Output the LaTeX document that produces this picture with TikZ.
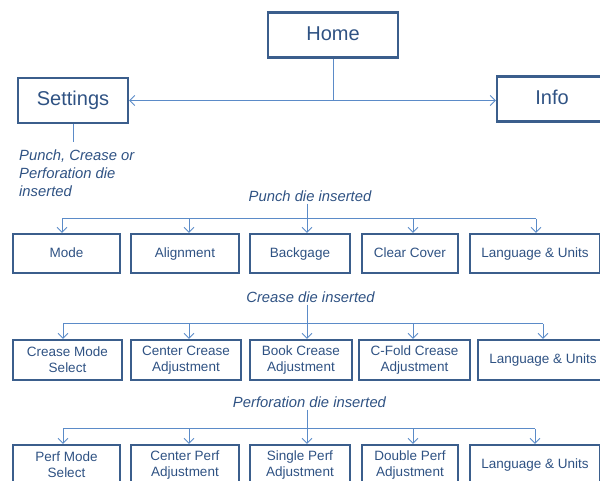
\documentclass[tikz,border=0pt]{standalone}
\usepackage{fontspec}
\setmainfont{Liberation Sans}
\usetikzlibrary{calc,arrows.meta}

\definecolor{boxblue}{HTML}{3B5E8C}
\definecolor{textblue}{HTML}{2F5283}
\definecolor{linkblue}{HTML}{5B8BC8}

\tikzset{>={Straight Barb[length=5pt,width=10pt]}}

\begin{document}
\begin{tikzpicture}[x=1pt, y=-1pt,
		topbox/.style={draw=boxblue, line width=2.4pt, text=textblue, font=\fontsize{20}{24}\selectfont, minimum height=45pt, inner sep=0pt, text height=14.5pt, text depth=4pt},
		menubox/.style={draw=boxblue, line width=2.2pt, text=textblue, font=\fontsize{13.5}{16}\selectfont, align=center, minimum height=39pt, inner sep=0pt},
		oneline/.style={menubox, text height=10pt, text depth=3pt},
		note/.style={text=textblue, font=\fontsize{14.8}{18}\selectfont\itshape, inner sep=2pt},
		link/.style={draw=linkblue, line width=0.9pt}
	]
		\useasboundingbox (0, 0) rectangle (600, 480);

		% top level
		\node[topbox, minimum width=130pt] (home) at (333, 35) {Home};
		\node[topbox, minimum width=110pt] (settings) at (73, 100.5) {Settings};
		\node[topbox, minimum width=110pt] (info) at (552, 99) {Info};
		\draw[link] (home.south) -- (home.south |- settings.east);
		\draw[link, <->] (settings.east) -- (settings.east -| info.west);
		\draw[link] (settings.south) -- ++(0, 18);
		\node[note, align=left, anchor=north west] (dies) at (17, 148) {Punch, Crease or\\Perforation die\\inserted};

		% punch die
		\node[note] (punch) at (310, 196) {Punch die inserted};
		\node[oneline, minimum width=107pt] (mode) at (66.5, 253.5) {Mode};
		\node[oneline, minimum width=108pt] (align) at (185, 253.5) {Alignment};
		\node[oneline, minimum width=100pt] (back) at (300, 253.5) {Backgage};
		\node[oneline, minimum width=96pt] (clear) at (410, 253.5) {Clear Cover};
		\node[oneline, minimum width=130pt] (lang1) at (535, 253.5) {Language \& Units};
		\foreach \n/\dx in {mode/-4.5, align/4, back/7, clear/3, lang1/1}{
			\coordinate (\n-top) at ($(\n.north)+(\dx, -14)$);
			\draw[link, ->] (\n-top) -- (\n-top |- \n.north);
		}
		\draw[link] (mode-top) -- (lang1-top);
		\draw[link] (punch.south -| back-top) -- (back-top);

		% crease die
		\node[note] (crease) at (310.5, 297) {Crease die inserted};
		\node[menubox, minimum width=109pt, minimum height=40pt] (cmode) at (67.5, 360) {Crease Mode\\Select};
		\node[menubox, minimum width=110pt, minimum height=40pt] (ccenter) at (186, 360) {Center Crease\\Adjustment};
		\node[menubox, minimum width=102pt, minimum height=40pt] (cbook) at (301, 360) {Book Crease\\Adjustment};
		\node[menubox, minimum width=111pt, minimum height=40pt] (cfold) at (414.5, 360) {C-Fold Crease\\Adjustment};
		\node[oneline, minimum width=130pt, minimum height=40pt] (lang2) at (543, 360) {Language \& Units};
		\foreach \n/\dx in {cmode/-4.5, ccenter/3, cbook/6, cfold/-1.5, lang2/0}{
			\coordinate (\n-top) at ($(\n.north)+(\dx, -15)$);
			\draw[link, ->] (\n-top) -- (\n-top |- \n.north);
		}
		\draw[link] (cmode-top) -- (lang2-top);
		\draw[link] (crease.south -| cbook-top) -- (cbook-top);

		% perforation die
		\node[note] (perf) at (309.5, 402) {Perforation die inserted};
		\node[menubox, minimum width=107pt, minimum height=40pt] (pmode) at (66.5, 465) {Perf Mode\\Select};
		\node[menubox, minimum width=108pt, minimum height=40pt] (pcenter) at (185, 465) {Center Perf\\Adjustment};
		\node[menubox, minimum width=100pt, minimum height=40pt] (psingle) at (300, 465) {Single Perf\\Adjustment};
		\node[menubox, minimum width=96pt, minimum height=40pt] (pdouble) at (410, 465) {Double Perf\\Adjustment};
		\node[oneline, minimum width=130pt, minimum height=40pt] (lang3) at (535, 465) {Language \& Units};
		\foreach \n/\dx in {pmode/-3.5, pcenter/4, psingle/7, pdouble/3, lang3/0}{
			\coordinate (\n-top) at ($(\n.north)+(\dx, -15)$);
			\draw[link, ->] (\n-top) -- (\n-top |- \n.north);
		}
		\draw[link] (pmode-top) -- (lang3-top);
		\draw[link] (perf.south -| psingle-top) -- (psingle-top);
	\end{tikzpicture}
\end{document}
